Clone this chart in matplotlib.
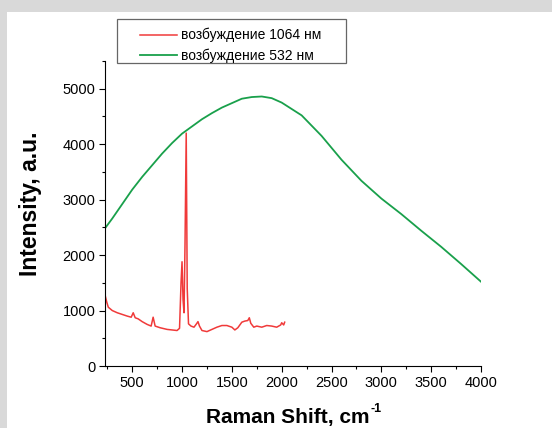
import numpy as np
import matplotlib
matplotlib.use('Agg')
import matplotlib.pyplot as plt
from matplotlib.patches import Rectangle

plt.rcParams['font.family'] = ['Liberation Sans', 'DejaVu Sans']

# 532 nm excitation
x532 = [230, 300, 400, 500, 600, 700, 800, 900, 1000, 1100, 1200, 1300, 1400, 1500,
        1600, 1700, 1800, 1900, 2000, 2200, 2400, 2600, 2800, 3000, 3200, 3400,
        3600, 3800, 4000]
y532 = [2490, 2660, 2920, 3180, 3410, 3620, 3830, 4020, 4190, 4320, 4450, 4560, 4660, 4740,
        4820, 4850, 4860, 4830, 4750, 4520, 4150, 3720, 3340, 3020, 2740, 2440,
        2150, 1840, 1520]

# 1064 nm excitation
x1064 = [230, 245, 260, 300, 350, 400, 450, 490, 510, 530, 560, 600, 650, 690, 710, 730,
         780, 850, 900, 950, 975, 990, 1000, 1010, 1020, 1030, 1042, 1052, 1065, 1090,
         1120, 1145, 1160, 1175, 1200, 1250, 1300, 1350, 1400, 1450, 1500, 1530, 1560,
         1600, 1630, 1660, 1675, 1690, 1720, 1750, 1800, 1850, 1900, 1950, 1990, 2000,
         2020, 2030]
y1064 = [1260, 1150, 1060, 1000, 960, 930, 900, 880, 960, 870, 850, 800, 750, 720, 880, 720,
         690, 660, 650, 640, 680, 1500, 1880, 1200, 960, 2200, 4200, 1400, 760, 720,
         700, 760, 800, 720, 640, 620, 660, 700, 730, 730, 700, 650, 690,
         790, 810, 820, 870, 770, 700, 720, 700, 730, 720, 700, 740, 780,
         740, 790]

W, H = 552, 428
fig = plt.figure(figsize=(W / 100, H / 100), dpi=100)
fig.patch.set_facecolor('#d9d9d9')
fig.patches.append(Rectangle((7 / W, 0), 1, 1 - 12 / H, transform=fig.transFigure,
                             facecolor='white', edgecolor='none', zorder=-10))

ax = fig.add_axes([105 / W, 1 - 366 / H, 376 / W, 305 / H])
ax.set_facecolor('none')
ax.plot(x1064, y1064, color='#f03a3a', lw=1.1, label='возбуждение 1064 нм')
ax.plot(x532, y532, color='#19a04b', lw=1.3, label='возбуждение 532 нм')

ax.set_xlim(227, 4000)
ax.set_ylim(0, 5500)
ax.set_xticks(np.arange(500, 4001, 500))
ax.set_xticks(np.arange(250, 4001, 250), minor=True)
ax.set_yticks(np.arange(0, 5001, 1000))
ax.set_yticks(np.arange(0, 5501, 500), minor=True)
ax.spines['top'].set_visible(False)
ax.spines['right'].set_visible(False)
ax.tick_params(which='major', length=4, width=0.8, labelsize=10.5, pad=3)
ax.tick_params(which='minor', length=2.5, width=0.8)

# axis titles
xl = fig.text(288 / W, 1 - 418 / H, 'Raman Shift, cm', fontsize=15, fontweight='bold',
              ha='center', va='center')
fig.canvas.draw()
bb = xl.get_window_extent()
fig.text((bb.x1 + 0.5) / W, (bb.y1 - 0.5) / H, '-1', fontsize=9, fontweight='bold',
         ha='left', va='center')
fig.text(31 / W, 1 - 204 / H, 'Intensity, a.u.', fontsize=16.5, fontweight='bold',
         rotation=90, ha='center', va='center')

# legend box drawn separately
fig.patches.append(Rectangle((117 / W, 1 - 63 / H), 229 / W, 44 / H, transform=fig.transFigure,
                             facecolor='white', edgecolor='#666666', lw=0.9, zorder=5))
leg = fig.legend(loc='upper left', bbox_to_anchor=(140 / W, 1 - 28 / H),
                 fontsize=10, frameon=False, handlelength=2.65, handletextpad=0.3,
                 borderpad=0, labelspacing=0.45, borderaxespad=0)
leg.set_zorder(6)

fig.savefig('out.png', dpi=100, facecolor=fig.get_facecolor())
